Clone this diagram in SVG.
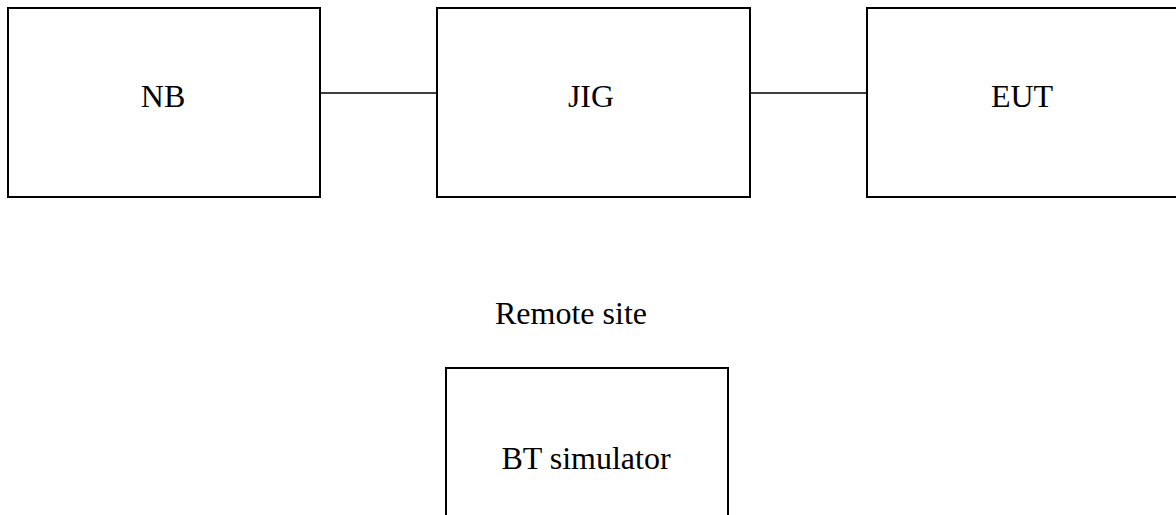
<svg xmlns="http://www.w3.org/2000/svg" width="1176" height="515" viewBox="0 0 1176 515">
<style>
.box{fill:#fff;stroke:#000;stroke-width:2}
.lbl{font-family:"Liberation Serif","Times New Roman",serif;font-size:32px;fill:#000;text-anchor:middle}
.conn{stroke:#000;stroke-width:1.6;fill:none}
</style>
<rect width="1176" height="515" fill="#fff"/>
<g id="connectors">
<line class="conn" x1="320" y1="93" x2="437" y2="93"/>
<line class="conn" x1="750" y1="93" x2="867" y2="93"/>
</g>
<g id="nb">
<rect class="box" x="8" y="8" width="312" height="189"/>
<text class="lbl" x="163" y="107">NB</text>
</g>
<g id="jig">
<rect class="box" x="437" y="8" width="313" height="189"/>
<text class="lbl" x="591" y="107">JIG</text>
</g>
<g id="eut">
<rect class="box" x="867" y="8" width="313" height="189"/>
<text class="lbl" x="1022" y="107">EUT</text>
</g>
<text class="lbl" x="571" y="324">Remote site</text>
<g id="bt-simulator">
<rect class="box" x="446" y="368" width="282" height="200"/>
<text class="lbl" x="586" y="469">BT simulator</text>
</g>
</svg>
